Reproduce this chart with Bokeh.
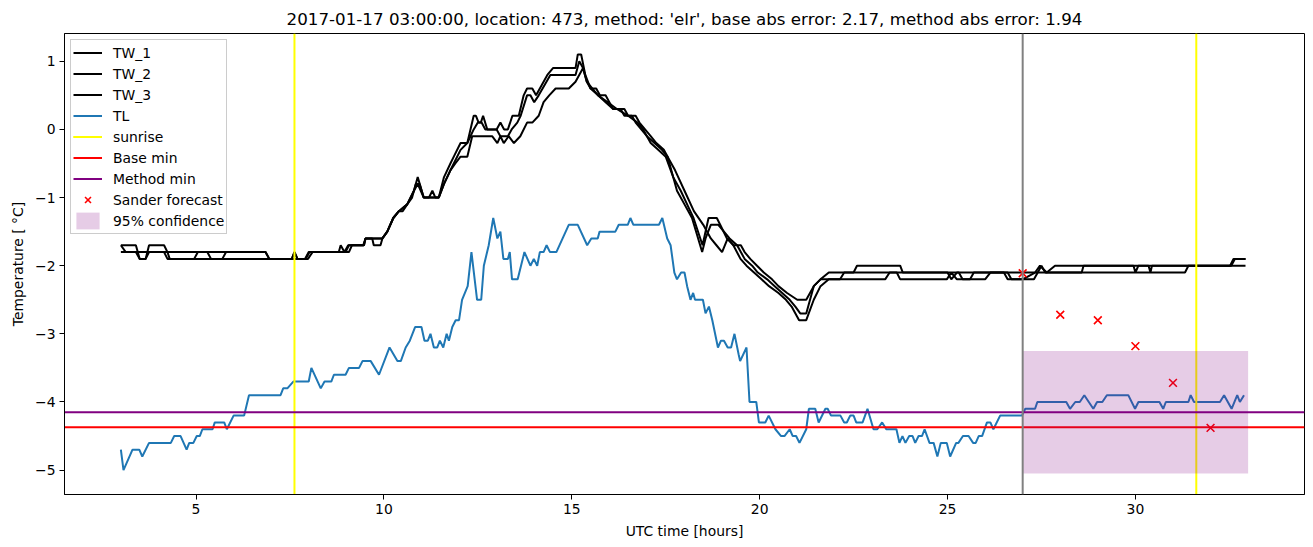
from bokeh.plotting import figure
from bokeh.models import Range1d, FixedTicker, Span
from bokeh.embed import file_html
from bokeh.resources import INLINE

FONT = "DejaVu Sans"

# ---------------- data ----------------
title_text = "2017-01-17 03:00:00, location: 473, method: 'elr', base abs error: 2.17, method abs error: 1.94"

tw1_t = [3.0, 3.4, 3.5, 3.66, 3.75, 4.15, 4.24, 6.85, 6.95, 7.55, 7.62, 7.7, 7.9, 8.0, 8.8, 8.85, 8.95, 9.05, 9.45, 9.51,
         9.96, 10.09, 10.25, 10.4, 10.5, 10.62, 10.8, 10.9, 11.06, 11.2, 11.29, 11.37, 11.46, 11.6, 11.77, 11.86, 12.04,
         12.22, 12.39, 12.45, 12.52, 12.58, 12.64, 12.75, 13.0, 13.1, 13.2, 13.3, 13.42, 13.59, 13.72, 13.81, 13.95,
         14.05, 14.15, 14.35, 14.5, 15.1, 15.16, 15.25, 15.36, 15.5, 15.65, 15.75, 15.9, 16.0, 16.1, 16.3, 16.4, 16.6,
         16.7, 16.85, 17.0, 17.1, 17.3, 17.5, 17.7, 17.9, 18.07, 18.24, 18.48, 18.64, 18.86, 18.95, 19.13, 19.31, 19.5,
         19.6, 19.75, 19.93, 20.11, 20.33, 20.5, 20.73, 21.0, 21.24, 21.44, 21.62, 21.84, 22.5, 22.59, 23.74, 23.81,
         25.3, 25.4, 25.6, 25.7, 27.33, 27.46, 27.64, 27.86, 29.95, 30.0, 30.08, 32.52, 32.61, 32.93]
tw1_v = [-1.7, -1.7, -1.9, -1.9, -1.7, -1.7, -1.8, -1.8, -1.9, -1.9, -1.8, -1.9, -1.9, -1.8, -1.8, -1.7, -1.8, -1.7, -1.7, -1.6,
         -1.6, -1.5, -1.3, -1.2, -1.2, -1.1, -0.9, -0.7, -1.0, -1.0, -0.9, -1.0, -1.0, -0.7, -0.5, -0.4, -0.2,
         -0.2, 0.2, 0.2, 0.1, 0.1, 0.2, 0.0, 0.0, 0.1, 0.0, 0.0, 0.2, 0.2, 0.5, 0.6, 0.6,
         0.5, 0.6, 0.8, 0.9, 0.9, 1.1, 1.1, 0.8, 0.6, 0.6, 0.5, 0.5, 0.4, 0.3, 0.3, 0.2, 0.2,
         0.1, 0.0, -0.1, -0.2, -0.3, -0.4, -0.7, -0.9, -1.1, -1.3, -1.7, -1.3, -1.3, -1.4, -1.6, -1.7, -1.7,
         -1.8, -1.9, -2.0, -2.1, -2.2, -2.3, -2.4, -2.5, -2.5, -2.3, -2.2, -2.1, -2.1, -2.0, -2.0, -2.1,
         -2.1, -2.2, -2.2, -2.1, -2.1, -2.0, -2.1, -2.0, -2.0, -2.1, -2.0, -2.0, -1.9, -1.9]

tw2_t = [3.0, 3.4, 3.5, 3.66, 3.75, 4.15, 4.24, 4.95, 5.05, 5.3, 5.4, 5.7, 5.8, 6.85, 6.95, 7.92, 8.02, 9.07, 9.15, 9.47,
         9.51, 9.69, 9.73, 9.91, 9.96, 10.09, 10.25, 10.4, 10.62, 10.8, 10.9, 11.06, 11.46, 11.6, 11.77, 11.86, 12.04,
         12.22, 12.39, 12.5, 12.6, 12.7, 13.0, 13.1, 13.3, 13.4, 13.55, 13.64, 13.81, 13.9, 14.0, 14.12, 14.43, 15.1,
         15.2, 15.3, 15.4, 15.5, 15.7, 15.9, 16.1, 16.4, 16.5, 16.7, 16.8, 16.95, 17.1, 17.25, 17.45, 17.55, 17.8, 18.0,
         18.2, 18.47, 18.56, 18.7, 18.9, 19.05, 19.2, 19.4, 19.6, 19.8, 19.95, 20.2, 20.4, 20.6, 20.8, 20.95, 21.08,
         21.24, 21.44, 21.62, 22.14, 22.25, 25.0, 25.1, 25.25, 26.6, 26.7, 27.0, 27.33, 28.57, 28.62, 30.35, 30.4,
         30.44, 32.93]
tw2_v = [-1.8, -1.8, -1.9, -1.9, -1.8, -1.8, -1.9, -1.9, -1.8, -1.8, -1.9, -1.9, -1.8, -1.8, -1.9, -1.9, -1.8, -1.8, -1.7, -1.7,
         -1.6, -1.6, -1.7, -1.7, -1.6, -1.5, -1.3, -1.2, -1.1, -0.9, -0.8, -1.0, -1.0, -0.8, -0.6, -0.5, -0.3,
         -0.2, 0.0, 0.1, 0.1, 0.0, 0.0, -0.1, -0.1, 0.0, 0.1, 0.2, 0.5, 0.5, 0.4, 0.5, 0.8, 0.8,
         1.0, 0.9, 0.7, 0.6, 0.5, 0.4, 0.3, 0.3, 0.2, 0.2, 0.1, 0.0, -0.1, -0.2, -0.3, -0.4, -0.9, -1.1,
         -1.3, -1.8, -1.6, -1.4, -1.4, -1.5, -1.6, -1.7, -1.9, -2.0, -2.1, -2.2, -2.3, -2.4, -2.5, -2.6, -2.7,
         -2.7, -2.3, -2.2, -2.2, -2.1, -2.1, -2.2, -2.1, -2.1, -2.2, -2.2, -2.1, -2.1, -2.0, -2.0, -2.1,
         -2.0, -2.0]

tw3_t = [3.0, 3.13, 4.24, 4.3, 7.55, 7.62, 7.7, 7.98, 8.1, 8.98, 9.07, 9.47, 9.51, 9.96, 10.09, 10.25, 10.4, 10.62, 10.75,
         10.85, 10.95, 11.06, 11.46, 11.6, 11.77, 11.9, 12.04, 12.22, 12.35, 12.88, 13.02, 13.1, 13.19, 13.32, 13.46,
         13.63, 13.81, 13.95, 14.12, 14.25, 14.4, 14.57, 14.92, 15.1, 15.3, 15.4, 15.55, 15.7, 15.95, 16.2, 16.5, 16.75,
         16.9, 17.0, 17.2, 17.4, 17.55, 17.75, 18.0, 18.25, 18.5, 18.7, 18.85, 19.0, 19.15, 19.3, 19.49, 19.65, 19.85,
         20.05, 20.25, 20.5, 20.7, 20.85, 21.05, 21.24, 21.44, 21.62, 21.84, 23.34, 23.46, 23.65, 23.74, 24.98, 25.1,
         25.25, 26.0, 26.14, 26.5, 26.6, 27.3, 27.4, 27.5, 27.6, 27.78, 31.32, 31.41, 32.55, 32.65, 32.93]
tw3_v = [-1.7, -1.8, -1.8, -1.9, -1.9, -1.8, -1.9, -1.9, -1.8, -1.8, -1.7, -1.7, -1.6, -1.6, -1.5, -1.3, -1.2, -1.1, -1.0,
         -0.8, -0.8, -1.0, -1.0, -0.8, -0.6, -0.5, -0.4, -0.4, -0.1, -0.1, -0.2, -0.1, -0.2, -0.1, -0.2,
         -0.1, 0.1, 0.1, 0.2, 0.4, 0.5, 0.6, 0.6, 0.7, 0.9, 0.7, 0.6, 0.5, 0.4, 0.3, 0.2, 0.1,
         0.0, -0.1, -0.2, -0.3, -0.4, -0.6, -0.9, -1.2, -1.4, -1.6, -1.7, -1.8, -1.6, -1.7, -1.9, -2.0, -2.1,
         -2.2, -2.3, -2.4, -2.5, -2.6, -2.8, -2.8, -2.5, -2.3, -2.2, -2.2, -2.1, -2.1, -2.2, -2.2, -2.1,
         -2.2, -2.2, -2.1, -2.1, -2.2, -2.2, -2.1, -2.0, -2.1, -2.1, -2.1, -2.0, -2.0, -1.9, -1.9]

tl_t = [3.0, 3.07, 3.31, 3.49, 3.57, 3.75, 4.33, 4.42, 4.59, 4.75, 4.82, 4.93, 5.02, 5.1, 5.17, 5.44, 5.5, 5.75, 5.82,
        6.0, 6.28, 6.41, 7.25, 7.32, 7.43, 7.59, 8.0, 8.07, 8.32, 8.42, 8.6, 8.67, 8.98, 9.07, 9.34, 9.43, 9.65, 9.87,
        10.15, 10.36, 10.45, 10.58, 10.69, 10.83, 11.0, 11.08, 11.17, 11.24, 11.33, 11.42, 11.49, 11.58, 11.67, 11.73,
        11.82, 11.91, 12.0, 12.08, 12.23, 12.33, 12.48, 12.59, 12.66, 12.79, 12.91, 13.02, 13.1, 13.18, 13.3, 13.35,
        13.41, 13.56, 13.74, 13.9, 13.99, 14.08, 14.15, 14.25, 14.33, 14.42, 14.59, 14.92, 15.16, 15.41, 15.52, 15.69,
        15.74, 16.16, 16.25, 16.49, 16.56, 16.64, 17.32, 17.41, 17.54, 17.63, 17.73, 17.8, 17.91, 18.0, 18.07, 18.16,
        18.23, 18.28, 18.49, 18.56, 18.65, 18.74, 18.89, 18.97, 19.05, 19.15, 19.24, 19.33, 19.44, 19.48, 19.65, 19.73,
        19.91, 19.98, 20.15, 20.24, 20.42, 20.57, 20.66, 20.8, 20.88, 20.97, 21.06, 21.24, 21.31, 21.48, 21.57, 21.75,
        21.81, 21.9, 22.15, 22.25, 22.32, 22.41, 22.5, 22.57, 22.74, 22.87, 23.03, 23.13, 23.26, 23.37, 23.64, 23.72,
        23.8, 23.88, 23.98, 24.07, 24.14, 24.23, 24.32, 24.39, 24.52, 24.63, 24.73, 24.82, 24.98, 25.07, 25.23, 25.29,
        25.41, 25.56, 25.68, 25.75, 25.83, 25.92, 26.05, 26.14, 26.22, 26.4, 26.98, 27.07, 27.33, 27.39, 28.16, 28.26,
        28.4, 28.52, 28.64, 28.76, 28.88, 28.98, 29.12, 29.24, 29.81, 29.99, 30.08, 30.64, 30.74, 30.81, 31.41, 31.47,
        31.56, 32.25, 32.36, 32.56, 32.71, 32.78, 32.89]
tl_v = [-4.7, -5.0, -4.7, -4.7, -4.8, -4.6, -4.6, -4.5, -4.5, -4.7, -4.6, -4.6, -4.5, -4.5, -4.4, -4.4, -4.3, -4.3, -4.4,
        -4.2, -4.2, -3.9, -3.9, -3.8, -3.8, -3.7, -3.7, -3.5, -3.8, -3.7, -3.7, -3.6, -3.6, -3.5, -3.5, -3.4, -3.4, -3.6,
        -3.2, -3.4, -3.4, -3.2, -3.1, -2.9, -2.9, -3.1, -3.1, -3.0, -3.2, -3.2, -3.1, -3.2, -3.0, -3.1,
        -2.9, -2.8, -2.8, -2.5, -2.3, -1.8, -2.5, -2.5, -2.0, -1.7, -1.3, -1.6, -1.5, -1.9, -1.9, -1.8,
        -2.2, -2.2, -1.8, -2.0, -1.9, -2.0, -1.8, -1.8, -1.7, -1.8, -1.8, -1.4, -1.4, -1.7, -1.6, -1.6,
        -1.5, -1.5, -1.4, -1.4, -1.3, -1.4, -1.4, -1.3, -1.6, -1.7, -2.1, -2.2, -2.1, -2.1, -2.3, -2.5,
        -2.4, -2.5, -2.5, -2.7, -2.6, -2.8, -3.2, -3.1, -3.1, -3.2, -3.2, -3.0, -3.3, -3.4, -3.2, -4.0,
        -4.0, -4.3, -4.3, -4.2, -4.4, -4.5, -4.5, -4.4, -4.5, -4.5, -4.6, -4.4, -4.1, -4.1, -4.3, -4.1,
        -4.1, -4.2, -4.2, -4.3, -4.3, -4.2, -4.2, -4.3, -4.3, -4.1, -4.4, -4.4, -4.3, -4.4, -4.4, -4.6,
        -4.5, -4.6, -4.5, -4.5, -4.6, -4.5, -4.5, -4.4, -4.6, -4.6, -4.8, -4.6, -4.6, -4.8, -4.6, -4.6,
        -4.5, -4.5, -4.6, -4.6, -4.5, -4.5, -4.3, -4.3, -4.4, -4.2, -4.2, -4.1, -4.1, -4.0, -4.0, -4.1,
        -4.0, -4.0, -3.9, -4.0, -4.1, -4.0, -4.0, -3.9, -3.9, -4.1, -4.0, -4.0, -4.1, -4.0, -4.0, -3.9,
        -4.0, -4.0, -3.9, -4.1, -3.9, -4.0, -3.9]

sunrise_hours = [7.62, 31.62]
forecast_hour = 27.0
horizon_end_hour = 33.0
base_min = -4.37
method_min = -4.15
conf_halfwidth = 0.9
sander_hours = [27, 28, 29, 30, 31, 32]
sander_values = [-2.11, -2.72, -2.80, -3.18, -3.72, -4.38]

x_ticks = [5, 10, 15, 20, 25, 30]
y_ticks = [-5, -4, -3, -2, -1, 0, 1]

# ---------------- ranges (matplotlib-like 5% margins) ----------------
all_x = tw1_t + tw2_t + tw3_t + tl_t + [horizon_end_hour]
all_y = tw1_v + tw2_v + tw3_v + tl_v + [method_min - conf_halfwidth, method_min + conf_halfwidth]
x_lo, x_hi = min(all_x), max(all_x)
y_lo, y_hi = min(all_y), max(all_y)
mx = 0.05 * (x_hi - x_lo)
my = 0.05 * (y_hi - y_lo)
X0, X1 = x_lo - mx, x_hi + mx
Y0, Y1 = y_lo - my, y_hi + my

p = figure(width=1313, height=547, output_backend="svg", toolbar_location=None,
           x_range=Range1d(X0, X1), y_range=Range1d(Y0, Y1),
           min_border_left=64, min_border_right=9, min_border_top=33, min_border_bottom=53,
           background_fill_color="white", border_fill_color="white")

LW = 2
p.line(tw1_t, tw1_v, line_color="black", line_width=LW, legend_label="TW_1")
p.line(tw2_t, tw2_v, line_color="black", line_width=LW, legend_label="TW_2")
p.line(tw3_t, tw3_v, line_color="black", line_width=LW, legend_label="TW_3")
p.line(tl_t, tl_v, line_color="#1f77b4", line_width=LW, legend_label="TL")
for s in sunrise_hours:
    p.line([s, s], [Y0, Y1], line_color="yellow", line_width=LW, legend_label="sunrise")
p.line([X0, X1], [base_min, base_min], line_color="red", line_width=LW, legend_label="Base min")
p.line([X0, X1], [method_min, method_min], line_color="purple", line_width=LW, legend_label="Method min")
p.add_layout(Span(location=forecast_hour, dimension="height", line_color="gray", line_width=LW))
p.scatter(sander_hours, sander_values, marker="x", size=11, line_color="red", line_width=1.6,
          legend_label="Sander forecast")
p.varea(x=[forecast_hour, horizon_end_hour],
        y1=[method_min - conf_halfwidth] * 2, y2=[method_min + conf_halfwidth] * 2,
        fill_color="purple", fill_alpha=0.2, legend_label="95% confidence")

# ---------------- styling ----------------
p.title.text = title_text
p.title.align = "center"
p.title.text_font = FONT
p.title.text_font_size = "16.7px"
p.title.text_font_style = "normal"
p.title.text_color = "black"

p.xgrid.visible = False
p.ygrid.visible = False
p.outline_line_color = "black"
p.outline_line_alpha = 1
p.outline_line_width = 1

p.xaxis.ticker = FixedTicker(ticks=x_ticks)
p.yaxis.ticker = FixedTicker(ticks=y_ticks)
p.yaxis.major_label_overrides = {v: str(v).replace("-", "\u2212") for v in y_ticks}
p.xaxis.axis_label = "UTC time [hours]"
p.yaxis.axis_label = "Temperature [ \u00b0C]"
for ax in (p.xaxis[0], p.yaxis[0]):
    ax.axis_label_text_font = FONT
    ax.axis_label_text_font_size = "13.9px"
    ax.axis_label_text_font_style = "normal"
    ax.axis_label_text_color = "black"
    ax.major_label_text_font = FONT
    ax.major_label_text_font_size = "13.9px"
    ax.major_label_text_color = "black"
    ax.minor_tick_line_color = None
    ax.major_tick_in = 0
    ax.major_tick_out = 5
    ax.major_tick_line_color = "black"
    ax.axis_line_color = "black"
    ax.major_label_standoff = 4
    ax.axis_label_standoff = 6

lg = p.legend[0]
lg.location = "top_left"
lg.margin = 6
lg.padding = 2
lg.spacing = 0
lg.glyph_width = 29
lg.glyph_height = 21
lg.label_height = 21
lg.label_standoff = 11
lg.label_text_font = FONT
lg.label_text_font_size = "13.9px"
lg.label_text_color = "black"
lg.border_line_color = "#cccccc"
lg.border_line_alpha = 1
lg.background_fill_alpha = 0.8

open("out.html", "w").write(file_html(p, INLINE))
